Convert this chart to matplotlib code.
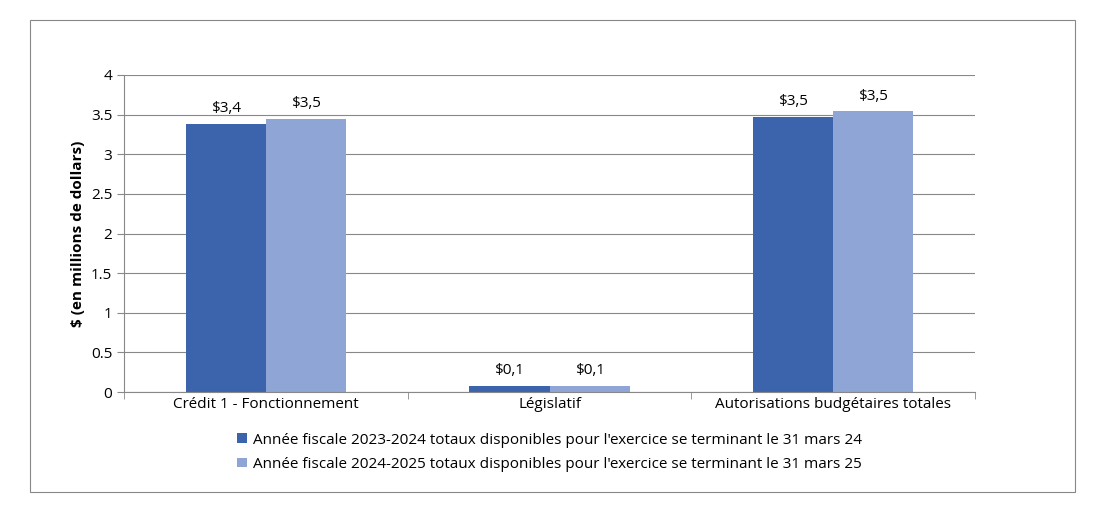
import matplotlib
matplotlib.use("Agg")
import matplotlib.pyplot as plt
from matplotlib.patches import Rectangle
import numpy as np

categories = ["Crédit 1 - Fonctionnement", "Législatif", "Autorisations budgétaires totales"]
series_2324 = [3.38, 0.08, 3.47]
series_2425 = [3.45, 0.08, 3.54]
labels_2324 = ["$3,4", "$0,1", "$3,5"]
labels_2425 = ["$3,5", "$0,1", "$3,5"]
legend_names = ["Année fiscale 2023-2024 totaux disponibles pour l'exercice se terminant le 31 mars 24",
                "Année fiscale 2024-2025 totaux disponibles pour l'exercice se terminant le 31 mars 25"]

plt.rcParams["font.family"] = "Open Sans"
fig = plt.figure(figsize=(10.97, 5.19), dpi=100)
fig.patches.append(Rectangle((30/1097, 1-492/519), 1045/1097, 472/519, transform=fig.transFigure,
                             fill=False, edgecolor="#888888", lw=0.8))
ax = fig.add_axes([124/1097, 1-392/519, 851/1097, 317/519])
x = np.arange(len(categories))
w = 0.283
c1, c2 = "#3c64ad", "#8fa5d6"
b1 = ax.bar(x - w/2, series_2324, w, color=c1, label=legend_names[0])
b2 = ax.bar(x + w/2, series_2425, w, color=c2, label=legend_names[1])
for bars, labs in ((b1, labels_2324), (b2, labels_2425)):
    for b, l in zip(bars, labs):
        ax.text(b.get_x() + b.get_width()/2, b.get_height() + 0.1, l, ha="center", va="bottom", fontsize=11)
ax.set_xlim(-0.5, 2.5)
ax.set_ylim(0, 4)
ax.set_yticks(np.arange(0, 4.01, 0.5))
ax.set_yticklabels(["0", "0.5", "1", "1.5", "2", "2.5", "3", "3.5", "4"], fontsize=11)
ax.set_xticks(x)
ax.set_xticklabels(categories, fontsize=11)
ax.set_xticks([-0.5, 0.5, 1.5, 2.5], minor=True)
ax.tick_params(axis="x", which="major", length=0)
ax.tick_params(axis="x", which="minor", length=5, color="#888888")
ax.tick_params(axis="y", length=5, color="#888888")
ax.grid(axis="y", color="#888888", lw=0.8)
ax.set_axisbelow(True)
for s in ["top", "right"]:
    ax.spines[s].set_visible(False)
for s in ["left", "bottom"]:
    ax.spines[s].set_color("#888888")
ax.set_ylabel("$ (en millions de dollars)", fontsize=11, fontweight="bold")
ax.legend(loc="upper center", bbox_to_anchor=(0.5, -0.085), frameon=False, fontsize=11,
          handlelength=0.6, handleheight=0.6, labelspacing=0.6, handletextpad=0.4)
fig.savefig("out.png", dpi=100)
